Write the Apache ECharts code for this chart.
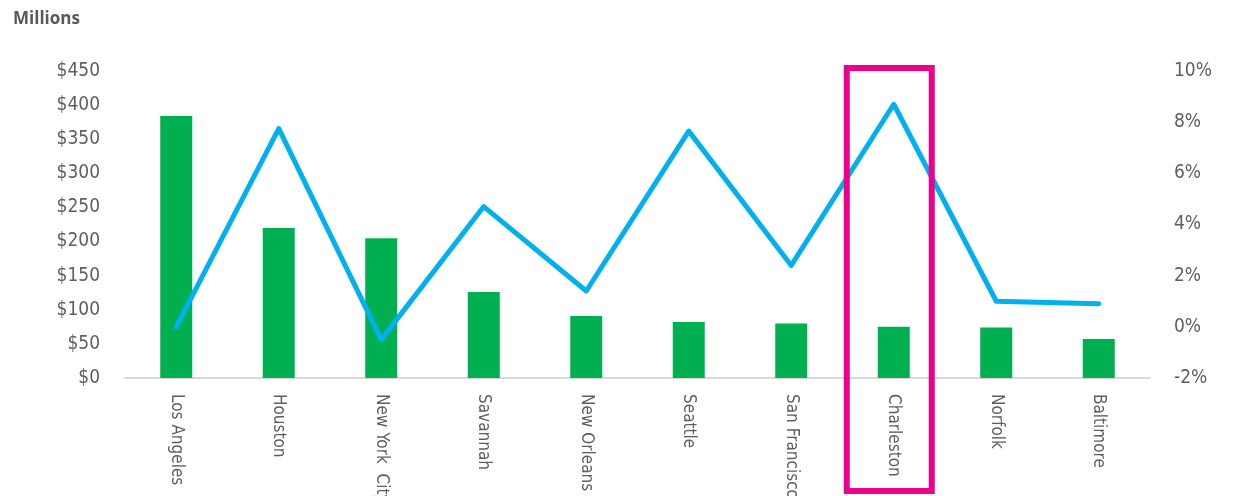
<!DOCTYPE html>
<html>
<head>
<meta charset="utf-8">
<script src="https://cdn.jsdelivr.net/npm/echarts@6/dist/echarts.min.js"></script>
<style>html,body{margin:0;padding:0;background:#fff}#c{width:1233px;height:496px}</style>
</head>
<body>
<div id="c"></div>
<script>
const categories = ['Los Angeles','Houston','New York  City','Savannah','New Orleans','Seattle','San Francisco','Charleston','Norfolk','Baltimore'];
const values = [384, 220, 205, 126, 91, 82, 80, 75, 74, 57];
const growth = [0.0, 7.75, -0.5, 4.7, 1.4, 7.65, 2.4, 8.7, 1.0, 0.9];
const leftTicks = {min: 0, max: 450, interval: 50};
const rightTicks = {min: -2, max: 10, interval: 2};
const highlight = 'Charleston';

const FONT = '"DejaVu Sans Condensed", sans-serif';
const chart = echarts.init(document.getElementById('c'));
chart.setOption({
  animation: false,
  title: {text: 'Millions', left: 8, top: 6, textStyle: {fontFamily: '"Open Sans", sans-serif', fontSize: 17, fontWeight: 'bold', color: '#595959'}},
  grid: {left: 125, right: 83, top: 71, bottom: 118, outerBoundsMode: 'none', containLabel: false},
  xAxis: {
    type: 'category', data: categories,
    axisLine: {lineStyle: {color: '#d9d9d9', width: 2}},
    axisTick: {show: false},
    axisLabel: {rotate: -90, margin: 16, interval: 0, fontFamily: FONT, fontSize: 17, color: '#5f5f5f'}
  },
  yAxis: [
    {type: 'value', min: leftTicks.min, max: leftTicks.max, interval: leftTicks.interval,
     splitLine: {show: false}, axisLine: {show: false}, axisTick: {show: false},
     axisLabel: {margin: 25, fontFamily: FONT, fontSize: 19, color: '#5f5f5f', formatter: v => '$' + v}},
    {type: 'value', min: rightTicks.min, max: rightTicks.max, interval: rightTicks.interval,
     splitLine: {show: false}, axisLine: {show: false}, axisTick: {show: false},
     axisLabel: {margin: 24, fontFamily: FONT, fontSize: 19, color: '#5f5f5f', formatter: v => v + '%'}}
  ],
  series: [
    {type: 'bar', data: values, barWidth: 32, itemStyle: {color: '#00b050'}},
    {type: 'line', yAxisIndex: 1, data: growth, symbol: 'none', z: 5,
     lineStyle: {color: '#00b0f0', width: 5, cap: 'round', join: 'round'}}
  ]
});
const cx = chart.convertToPixel({xAxisIndex: 0}, highlight);
chart.setOption({
  graphic: [{type: 'rect', shape: {x: cx - 47, y: 68, width: 85, height: 423},
    style: {fill: 'none', stroke: '#ec008c', lineWidth: 6}, z: 10}]
});
</script>
</body>
</html>
